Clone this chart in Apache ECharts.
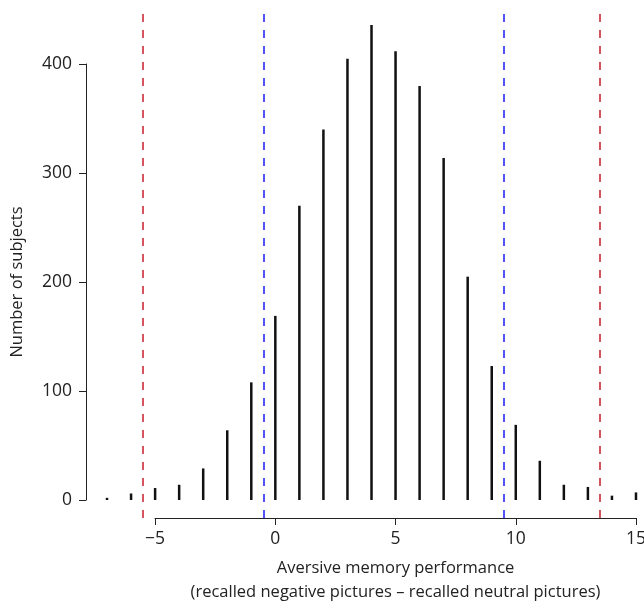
<!DOCTYPE html>
<html>
<head>
    <meta charset="utf-8">
    <script src="https://cdn.jsdelivr.net/npm/echarts@6/dist/echarts.min.js"></script>
    <style>
        html, body { margin: 0; padding: 0; background: #fff; }
        #main { width: 644px; height: 602px; }
    </style>
</head>
<body>
    <div id="main"></div>
<script type="text/javascript">
    // score = recalled negative - recalled neutral
    var scores = [-7, -6, -5, -4, -3, -2, -1, 0, 1, 2, 3, 4, 5, 6, 7, 8, 9, 10, 11, 12, 13, 14, 15];
    var counts = [2, 6, 11, 14, 29, 64, 108, 169, 270, 340, 405, 436, 412, 380, 314, 205, 123, 69, 36, 14, 12, 4, 7];
    var redCuts = [-5.5, 13.5];
    var blueCuts = [-0.5, 9.5];
    var xTicks = [-5, 0, 5, 10, 15];
    var yTicks = [0, 100, 200, 300, 400];

    var font = 'Open Sans';
    var myChart = echarts.init(document.getElementById('main'));

    var barData = scores.map(function (s, i) { return [s, counts[i]]; });
    var cutLines = [];
    redCuts.forEach(function (v) {
        cutLines.push({ xAxis: v, lineStyle: { color: '#c81d2c' } });
    });
    blueCuts.forEach(function (v) {
        cutLines.push({ xAxis: v, lineStyle: { color: '#1c1cf0' } });
    });

    option = {
        backgroundColor: '#fff',
        animation: false,
        textStyle: { fontFamily: font },
        grid: [
            { left: 95, right: 2, top: 13, bottom: 84, outerBoundsMode: 'none' },   // data
            { left: 155, right: 8, top: 13, bottom: 84, outerBoundsMode: 'none' },  // x axis (offset)
            { left: 86, width: 10, top: 64, bottom: 102, outerBoundsMode: 'none' }  // y axis (offset)
        ],
        xAxis: [
            { gridIndex: 0, type: 'value', min: -7.5, max: 15.25, show: false },
            {
                gridIndex: 1, type: 'value', min: xTicks[0], max: xTicks[xTicks.length - 1], interval: 5,
                position: 'bottom',
                axisLine: { show: true, onZero: false, lineStyle: { color: '#222', width: 1 } },
                axisTick: { show: true, length: 7, lineStyle: { color: '#222' } },
                splitLine: { show: false },
                axisLabel: {
                    color: '#222', fontSize: 17.5, margin: 12,
                    formatter: function (v) { return v < 0 ? '\u2212' + Math.abs(v) : String(v); }
                },
                name: 'Aversive memory performance\n(recalled negative pictures \u2013 recalled neutral pictures)',
                nameLocation: 'middle',
                nameGap: 38,
                nameMoveOverlap: false,
                nameTextStyle: { color: '#222', fontSize: 16.5, lineHeight: 24, verticalAlign: 'top' }
            },
            { gridIndex: 2, type: 'value', show: false }
        ],
        yAxis: [
            { gridIndex: 0, type: 'value', min: -16.5, max: 447, show: false },
            { gridIndex: 1, type: 'value', min: 0, max: 1, show: false },
            {
                gridIndex: 2, type: 'value', min: yTicks[0], max: yTicks[yTicks.length - 1], interval: 100,
                position: 'left',
                axisLine: { show: true, lineStyle: { color: '#222', width: 1 } },
                axisTick: { show: true, length: 7, lineStyle: { color: '#222' } },
                splitLine: { show: false },
                axisLabel: { color: '#222', fontSize: 17.5, margin: 14 },
                name: 'Number of subjects',
                nameLocation: 'middle',
                nameGap: 60,
                nameTextStyle: { color: '#222', fontSize: 16.5 }
            }
        ],
        series: [
            {
                name: 'subjects',
                type: 'bar',
                xAxisIndex: 0,
                yAxisIndex: 0,
                barWidth: 2.5,
                itemStyle: { color: '#111' },
                data: barData,
                markLine: {
                    silent: true,
                    symbol: ['none', 'none'],
                    label: { show: false },
                    lineStyle: { type: [8, 8], width: 1.5 },
                    data: cutLines
                }
            }
        ]
    };

    myChart.setOption(option);
</script>
</body>
</html>
